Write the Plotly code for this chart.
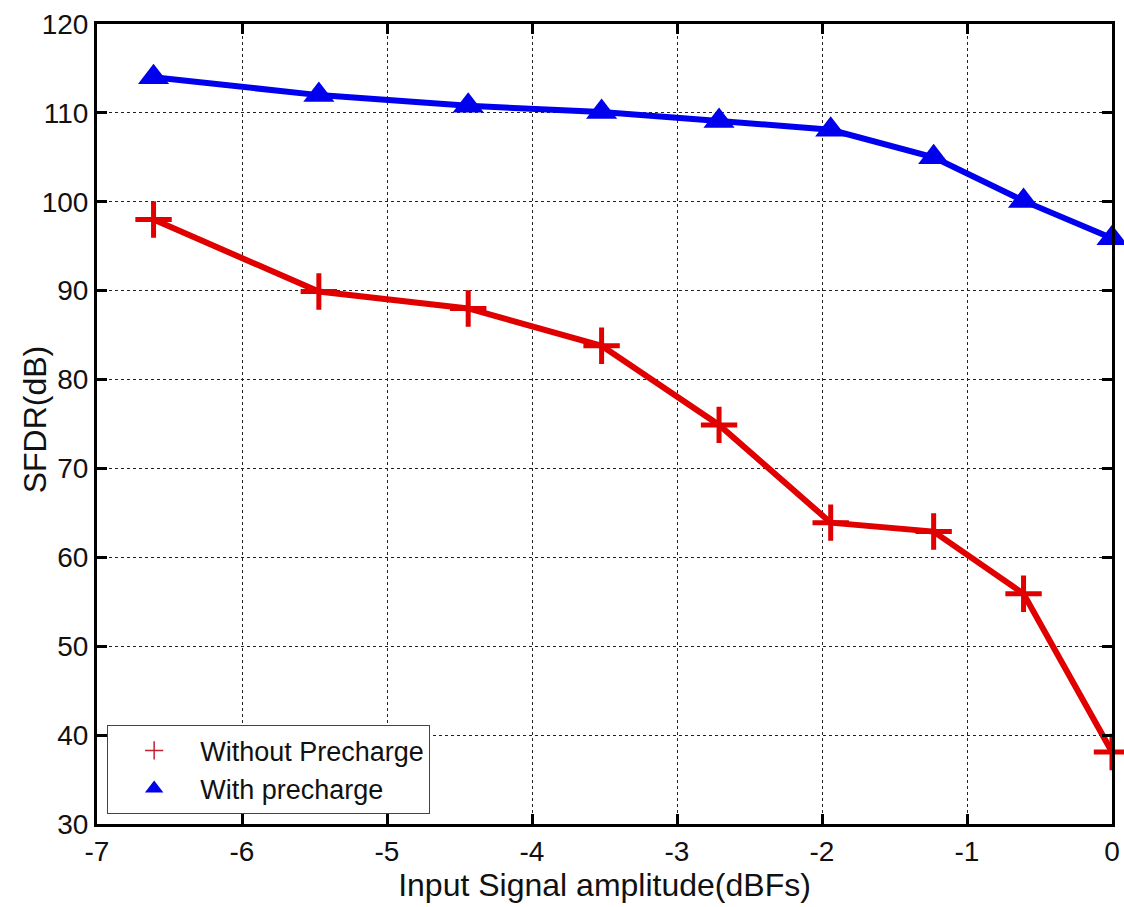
import plotly.graph_objects as go

x_vals = [-6.61, -5.47, -4.44, -3.52, -2.71, -1.94, -1.23, -0.61, 0.0]
with_precharge = [114.0, 112.0, 110.8, 110.1, 109.1, 108.1, 105.0, 100.1, 95.9]
without_precharge = [98.0, 89.9, 88.0, 83.8, 74.9, 63.9, 62.9, 55.9, 38.1]

x_ticks = [-7, -6, -5, -4, -3, -2, -1, 0]
y_ticks = [30, 40, 50, 60, 70, 80, 90, 100, 110, 120]

font_family = "Liberation Sans, Arial, sans-serif"

fig = go.Figure()

fig.add_trace(go.Scatter(
    x=x_vals, y=without_precharge, mode="lines+markers",
    line=dict(color="#e00000", width=6),
    marker=dict(symbol="cross-thin", size=26, line=dict(color="#e00000", width=5)),
    cliponaxis=False, showlegend=False,
))
fig.add_trace(go.Scatter(
    x=x_vals, y=with_precharge, mode="lines+markers",
    line=dict(color="#0000ee", width=6),
    marker=dict(symbol="triangle-up", size=27, color="#0000ee"),
    cliponaxis=False, showlegend=False,
))
# legend entries
fig.add_trace(go.Scatter(
    x=[None], y=[None], mode="markers", name="Without Precharge",
    marker=dict(symbol="cross-thin", size=13, line=dict(color="#c02030", width=1.5)),
))
fig.add_trace(go.Scatter(
    x=[None], y=[None], mode="markers", name="With precharge",
    marker=dict(symbol="triangle-up", size=28, color="#0000ee"),
))

axis_common = dict(
    showline=True, linecolor="black", linewidth=3, mirror="ticks",
    ticks="inside", ticklen=10, tickwidth=3, tickcolor="black",
    showgrid=True, gridcolor="#222222", griddash="dot", gridwidth=1,
    zeroline=False, automargin=False,
    tickfont=dict(family=font_family, size=28, color="#111111"),
)

fig.update_xaxes(
    range=[-7, 0], tickvals=x_ticks, ticktext=[str(v) for v in x_ticks],
    title=dict(text="Input Signal amplitude(dBFs)", font=dict(family=font_family, size=32, color="#111111"), standoff=0),
    **axis_common,
)
fig.update_yaxes(
    range=[30, 120], tickvals=y_ticks, ticktext=[str(v) for v in y_ticks],
    **axis_common,
)

fig.add_annotation(
    text="SFDR(dB)", textangle=-90, showarrow=False,
    xref="paper", yref="paper", x=-0.061, y=0.506, xanchor="center", yanchor="middle",
    font=dict(family=font_family, size=32, color="#111111"),
)

fig.update_layout(
    width=1124, height=907,
    margin=dict(l=97, r=12, t=24, b=83),
    plot_bgcolor="white", paper_bgcolor="white",
    legend=dict(
        x=0.01, y=0.012, xanchor="left", yanchor="bottom",
        bgcolor="white", bordercolor="#444444", borderwidth=1,
        font=dict(family=font_family, size=27, color="#111111"),
        tracegroupgap=0, itemwidth=82,
    ),
)

fig.write_html("out.html")
